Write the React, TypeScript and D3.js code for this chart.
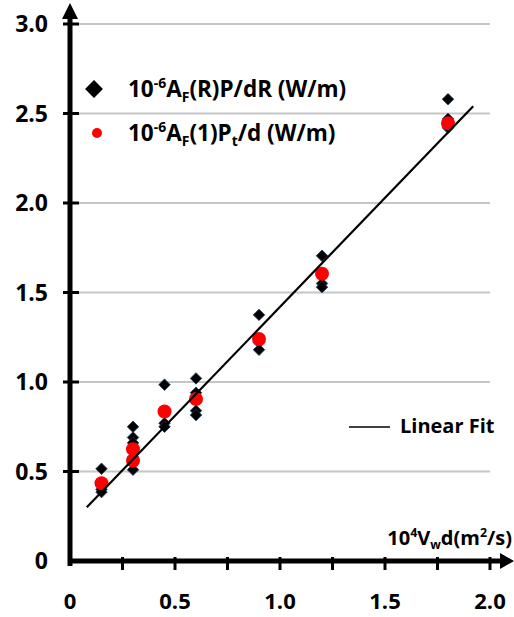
import React from 'react';
import * as d3 from 'd3';

const xCategories = [0.15, 0.3, 0.45, 0.6, 0.9, 1.2, 1.8];
const diamondValues = [
  [0.515, 0.40, 0.385],
  [0.75, 0.69, 0.66, 0.58, 0.51],
  [0.985, 0.77, 0.75],
  [1.02, 0.94, 0.84, 0.815],
  [1.375, 1.22, 1.18],
  [1.705, 1.55, 1.53],
  [2.58, 2.47, 2.42],
];
const circleValues = [
  [0.435],
  [0.625, 0.56],
  [0.835],
  [0.905],
  [1.24],
  [1.605],
  [2.445],
];
const fitX = [0.08, 1.92];
const fitY = [0.30, 2.54];
const yTicks = [0.5, 1.0, 1.5, 2.0, 2.5, 3.0];
const yTickLabels = ['0', '0.5', '1.0', '1.5', '2.0', '2.5', '3.0'];
const yLabelValues = [0, 0.5, 1.0, 1.5, 2.0, 2.5, 3.0];
const xTicks = [0.25, 0.5, 0.75, 1.0, 1.25, 1.5, 1.75, 2.0];
const xLabelValues = [0, 0.5, 1.0, 1.5, 2.0];
const xTickLabels = ['0', '0.5', '1.0', '1.5', '2.0'];

type Seg = { t: string; m?: 'sup' | 'sub' };
const legend1: Seg[] = [{ t: '10' }, { t: '-6', m: 'sup' }, { t: 'A' }, { t: 'F', m: 'sub' }, { t: '(R)P/dR (W/m)' }];
const legend2: Seg[] = [{ t: '10' }, { t: '-6', m: 'sup' }, { t: 'A' }, { t: 'F', m: 'sub' }, { t: '(1)P' }, { t: 't', m: 'sub' }, { t: '/d (W/m)' }];
const xTitle: Seg[] = [{ t: '10' }, { t: '4', m: 'sup' }, { t: 'V' }, { t: 'w', m: 'sub' }, { t: 'd(m' }, { t: '2', m: 'sup' }, { t: '/s)' }];

function RichText({ segs, x, y, size, anchor = 'start' }: { segs: Seg[]; x: number; y: number; size: number; anchor?: string }) {
  let cur = 0;
  return (
    <text x={x} y={y} fontSize={size} textAnchor={anchor} fontWeight={700} fontFamily="'Open Sans', sans-serif" fill="#000">
      {segs.map((s, i) => {
        const target = s.m === 'sup' ? -size * 0.38 : s.m === 'sub' ? size * 0.22 : 0;
        const dy = target - cur;
        cur = target;
        return (
          <tspan key={i} dy={dy} fontSize={s.m ? size * 0.62 : size}>
            {s.t}
          </tspan>
        );
      })}
    </text>
  );
}

export default function App() {
  const W = 514, H = 617;
  const x = d3.scaleLinear().domain([0, 2]).range([70, 490]);
  const y = d3.scaleLinear().domain([0, 3]).range([561, 24]);
  const diamond = d3.symbol(d3.symbolSquare, 66)();
  const legendDiamond = d3.symbol(d3.symbolSquare, 160)();
  const line = d3.line<number>().x((d) => x(d)).y((_, i) => y(fitY[i]));
  const font = "'Open Sans', sans-serif";

  return (
    <svg width={W} height={H} style={{ position: 'absolute', left: 0, top: 0, background: '#fff' }}>
      {yTicks.map((v) => (
        <line key={v} x1={78} x2={490} y1={y(v)} y2={y(v)} stroke="#c6c6c6" strokeWidth={2} />
      ))}
      {xCategories.map((xc, i) =>
        diamondValues[i].map((v, j) => (
          <path key={`d${i}-${j}`} d={diamond!} transform={`translate(${x(xc)},${y(v)}) rotate(45)`} fill="#000" stroke="#1d3a5c" strokeWidth={0.8} />
        ))
      )}
      {xCategories.map((xc, i) =>
        circleValues[i].map((v, j) => <circle key={`c${i}-${j}`} cx={x(xc)} cy={y(v)} r={7} fill="#ff0000" />)
      )}
      <path d={line(fitX)!} fill="none" stroke="#000" strokeWidth={2.2} />
      <line x1={70} x2={70} y1={566} y2={16} stroke="#000" strokeWidth={5} />
      <polygon points="62,19 70,3 78,19" fill="#000" />
      <line x1={68} x2={502} y1={561} y2={561} stroke="#000" strokeWidth={5} />
      <polygon points="500,553 514,561 500,569" fill="#000" />
      {yTicks.map((v) => (
        <line key={`yt${v}`} x1={63} x2={79} y1={y(v)} y2={y(v)} stroke="#000" strokeWidth={3} />
      ))}
      {xTicks.map((v) => (
        <line key={`xt${v}`} x1={x(v)} x2={x(v)} y1={557} y2={570} stroke="#000" strokeWidth={3} />
      ))}
      {yLabelValues.map((v, i) => (
        <text key={`yl${v}`} x={48} y={y(v) + 8} textAnchor="end" fontSize={23} fontWeight={700} fontFamily={font}>
          {yTickLabels[i]}
        </text>
      ))}
      {xLabelValues.map((v, i) => (
        <text key={`xl${v}`} x={x(v)} y={609} textAnchor="middle" fontSize={22} fontWeight={700} fontFamily={font}>
          {xTickLabels[i]}
        </text>
      ))}
      <path d={legendDiamond!} transform="translate(94,89) rotate(45)" fill="#000" />
      <RichText segs={legend1} x={128} y={97} size={22.5} />
      <circle cx={97} cy={133} r={5} fill="#ff0000" />
      <RichText segs={legend2} x={128} y={141} size={22.5} />
      <line x1={349} x2={390} y1={427} y2={427} stroke="#000" strokeWidth={1.5} />
      <text x={400} y={433} fontSize={20} fontWeight={700} fontFamily={font}>Linear Fit</text>
      <RichText segs={xTitle} x={512} y={545} size={20} anchor="end" />
    </svg>
  );
}
